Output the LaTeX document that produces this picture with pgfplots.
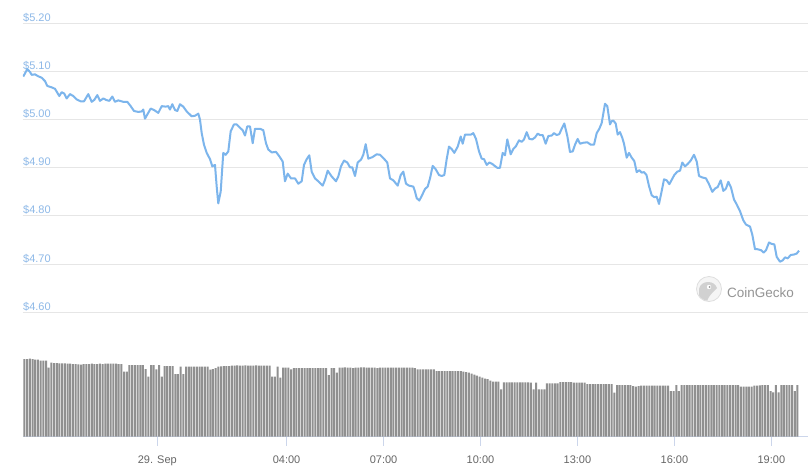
\documentclass[border=0pt]{standalone}
\usepackage{pgfplots}
\pgfplotsset{compat=1.18}
\usepackage{fontspec}
\setmainfont{Liberation Sans}
\definecolor{lineblue}{RGB}{124,181,236}
\definecolor{labelblue}{RGB}{142,185,232}
\definecolor{gridgray}{RGB}{230,230,230}
\definecolor{axisblue}{RGB}{204,214,235}
\definecolor{bargray}{RGB}{144,144,144}
\definecolor{textgray}{RGB}{102,102,102}
\begin{document}
\begin{tikzpicture}
\fill[white] (0pt,0pt) rectangle (808pt,467pt);
\useasboundingbox (0pt,0pt) rectangle (808pt,467pt);
% price panel
\begin{axis}[at={(23pt,154.7pt)}, anchor=south west, scale only axis,
  width=785pt, height=289pt,
  xmin=-4.155, xmax=20.133, ymin=4.6, ymax=5.2,
  axis line style={draw=none}, xtick=\empty,
  ytick={4.6,4.7,4.8,4.9,5.0,5.1,5.2},
  yticklabels={\$4.60,\$4.70,\$4.80,\$4.90,\$5.00,\$5.10,\$5.20},
  ymajorgrids, grid style={draw=gridgray, line width=1pt},
  major tick length=0pt, ytick style={draw=none},
  yticklabel style={font=\fontsize{11}{13}\selectfont, text=labelblue, anchor=base west, inner xsep=0pt, yshift=2pt},
]
\addplot[color=lineblue, line width=2pt, line join=round] table[row sep=\\] {
x y\\
-4.146 5.0895\\ -4.022 5.105\\ -3.939 5.099\\ -3.886 5.093\\ -3.784 5.094\\ -3.682 5.090\\
-3.577 5.087\\ -3.475 5.080\\ -3.404 5.070\\ -3.267 5.067\\ -3.165 5.064\\ -3.094 5.056\\
-3.032 5.049\\ -2.958 5.057\\ -2.878 5.054\\ -2.803 5.044\\ -2.701 5.053\\ -2.599 5.049\\
-2.494 5.042\\ -2.370 5.038\\ -2.268 5.038\\ -2.135 5.053\\ -2.030 5.037\\ -1.949 5.041\\
-1.856 5.051\\ -1.773 5.039\\ -1.671 5.044\\ -1.587 5.041\\ -1.485 5.039\\ -1.392 5.048\\
-1.309 5.037\\ -1.207 5.040\\ -1.052 5.037\\ -0.928 5.037\\ -0.823 5.028\\ -0.721 5.018\\
-0.588 5.016\\ -0.483 5.017\\ -0.433 5.021\\ -0.381 5.002\\ -0.297 5.012\\ -0.204 5.023\\
-0.102 5.020\\ 0.031 5.014\\ 0.136 5.028\\ 0.260 5.027\\ 0.340 5.028\\ 0.393 5.021\\
0.464 5.032\\ 0.548 5.020\\ 0.619 5.018\\ 0.702 5.032\\ 0.804 5.027\\ 0.910 5.017\\
1.064 5.007\\ 1.166 5.008\\ 1.269 5.0125\\ 1.321 5.000\\ 1.374 4.972\\ 1.445 4.948\\
1.528 4.931\\ 1.631 4.918\\ 1.702 4.903\\ 1.785 4.906\\ 1.838 4.861\\ 1.887 4.826\\
1.962 4.851\\ 2.042 4.931\\ 2.116 4.927\\ 2.197 4.934\\ 2.271 4.976\\ 2.373 4.990\\
2.457 4.990\\ 2.559 4.983\\ 2.642 4.978\\ 2.714 4.967\\ 2.785 4.986\\ 2.868 4.986\\
2.952 4.951\\ 3.023 4.981\\ 3.178 4.981\\ 3.280 4.978\\ 3.363 4.951\\ 3.434 4.938\\
3.540 4.932\\ 3.673 4.933\\ 3.775 4.924\\ 3.880 4.913\\ 3.951 4.872\\ 4.035 4.888\\
4.137 4.878\\ 4.261 4.878\\ 4.363 4.867\\ 4.468 4.872\\ 4.539 4.906\\ 4.623 4.918\\
4.703 4.926\\ 4.777 4.892\\ 4.879 4.878\\ 4.981 4.872\\ 5.118 4.863\\ 5.189 4.875\\
5.272 4.894\\ 5.396 4.882\\ 5.529 4.872\\ 5.60 4.882\\ 5.684 4.903\\ 5.777 4.915\\
5.879 4.911\\ 5.962 4.901\\ 6.033 4.901\\ 6.117 4.883\\ 6.200 4.911\\ 6.303 4.917\\
6.374 4.927\\ 6.448 4.949\\ 6.529 4.919\\ 6.652 4.922\\ 6.788 4.928\\ 6.891 4.927\\
7.024 4.918\\ 7.116 4.911\\ 7.200 4.878\\ 7.302 4.874\\ 7.438 4.863\\ 7.531 4.885\\
7.611 4.892\\ 7.695 4.867\\ 7.788 4.863\\ 7.921 4.861\\ 7.973 4.851\\ 8.026 4.837\\
8.107 4.832\\ 8.199 4.844\\ 8.283 4.856\\ 8.366 4.861\\ 8.438 4.878\\ 8.521 4.904\\
8.614 4.897\\ 8.716 4.885\\ 8.800 4.883\\ 8.880 4.885\\ 8.954 4.918\\ 9.025 4.944\\
9.109 4.939\\ 9.189 4.931\\ 9.295 4.944\\ 9.388 4.965\\ 9.449 4.950\\ 9.521 4.969\\
9.604 4.969\\ 9.706 4.969\\ 9.777 4.972\\ 9.861 4.960\\ 9.954 4.934\\ 10.037 4.919\\
10.108 4.918\\ 10.192 4.906\\ 10.272 4.911\\ 10.365 4.908\\ 10.418 4.905\\ 10.520 4.900\\
10.603 4.900\\ 10.687 4.931\\ 10.758 4.926\\ 10.829 4.959\\ 10.934 4.928\\ 11.015 4.939\\
11.098 4.945\\ 11.191 4.957\\ 11.275 4.954\\ 11.346 4.959\\ 11.430 4.974\\ 11.510 4.960\\
11.603 4.959\\ 11.686 4.963\\ 11.770 4.971\\ 11.841 4.968\\ 11.925 4.968\\ 12.017 4.950\\
12.098 4.966\\ 12.203 4.967\\ 12.274 4.972\\ 12.358 4.968\\ 12.438 4.970\\ 12.512 4.981\\
12.593 4.992\\ 12.686 4.966\\ 12.769 4.933\\ 12.853 4.934\\ 12.924 4.948\\ 13.007 4.960\\
13.079 4.950\\ 13.181 4.952\\ 13.305 4.953\\ 13.410 4.948\\ 13.512 4.948\\ 13.595 4.972\\
13.676 4.981\\ 13.750 4.993\\ 13.852 5.033\\ 13.923 5.028\\ 14.007 4.990\\ 14.060 4.997\\
14.109 4.998\\ 14.183 4.992\\ 14.245 4.969\\ 14.316 4.974\\ 14.388 4.962\\ 14.440 4.950\\
14.524 4.921\\ 14.595 4.931\\ 14.678 4.921\\ 14.759 4.914\\ 14.833 4.891\\ 14.914 4.895\\
14.988 4.890\\ 15.059 4.891\\ 15.136 4.885\\ 15.214 4.862\\ 15.297 4.843\\ 15.378 4.839\\
15.452 4.840\\ 15.523 4.825\\ 15.607 4.852\\ 15.678 4.876\\ 15.761 4.874\\ 15.842 4.866\\
15.916 4.875\\ 15.996 4.885\\ 16.089 4.892\\ 16.173 4.894\\ 16.244 4.911\\ 16.327 4.903\\
16.411 4.908\\ 16.504 4.915\\ 16.606 4.927\\ 16.690 4.913\\ 16.761 4.883\\ 16.863 4.880\\
16.977 4.878\\ 17.070 4.866\\ 17.172 4.850\\ 17.256 4.857\\ 17.339 4.860\\ 17.432 4.874\\
17.513 4.852\\ 17.596 4.857\\ 17.667 4.871\\ 17.751 4.859\\ 17.844 4.834\\ 17.927 4.824\\
18.029 4.810\\ 18.131 4.791\\ 18.215 4.782\\ 18.339 4.778\\ 18.410 4.761\\ 18.493 4.731\\
18.565 4.731\\ 18.679 4.729\\ 18.763 4.724\\ 18.834 4.729\\ 18.927 4.745\\ 19.010 4.742\\
19.091 4.741\\ 19.165 4.715\\ 19.267 4.705\\ 19.350 4.708\\ 19.422 4.714\\ 19.505 4.712\\
19.598 4.719\\ 19.700 4.720\\ 19.784 4.722\\ 19.855 4.728\\
};
\end{axis}
% volume panel
\begin{axis}[at={(23pt,30.3pt)}, anchor=south west, scale only axis,
  width=785pt, height=100pt,
  xmin=-4.155, xmax=20.133, ymin=0, ymax=100,
  axis x line*=bottom, axis y line=none, ytick=\empty,
  xtick={0,4,7,10,13,16,19},
  xticklabels={29. Sep,04:00,07:00,10:00,13:00,16:00,19:00},
  tick align=outside, major tick length=9pt,
  x tick style={draw=axisblue, line width=1pt},
  x axis line style={-, draw=axisblue, line width=1pt},
  xticklabel style={font=\fontsize{11}{13}\selectfont, text=textgray, anchor=base, yshift=-17.8pt},
]
\addplot[ybar, bar width=2pt, bar shift=0pt, fill=bargray, draw=none]
 table[x expr=-4.11+\thisrow{i}/12, y=v, row sep=\\] {
i v\\
0 77.5\\ 1 77.5\\ 2 78\\ 3 77.5\\ 4 77\\ 5 77\\ 6 76\\ 7 76\\ 8 76\\ 9 69\\
10 74\\ 11 73.5\\ 12 73.5\\ 13 73.3\\ 14 73.3\\ 15 73.3\\ 16 73\\ 17 73\\ 18 72.7\\ 19 72.5\\
20 72.3\\ 21 72\\ 22 72.5\\ 23 72.5\\ 24 72.7\\ 25 73\\ 26 72.5\\ 27 72.7\\ 28 73\\ 29 72.5\\
30 73\\ 31 73\\ 32 73\\ 33 73\\ 34 73\\ 35 72.7\\ 36 72.7\\ 37 65\\ 38 65\\ 39 71.7\\
40 71.7\\ 41 71.7\\ 42 71.7\\ 43 71.7\\ 44 71.7\\ 45 67.7\\ 46 60\\ 47 71.7\\ 48 71.7\\ 49 67.3\\
50 71.7\\ 51 60\\ 52 70.7\\ 53 70.7\\ 54 70.7\\ 55 70.7\\ 56 62.7\\ 57 62.7\\ 58 70\\ 59 62.7\\
60 70\\ 61 70\\ 62 70\\ 63 70\\ 64 70\\ 65 70\\ 66 70\\ 67 70\\ 68 70\\ 69 67\\
70 67.5\\ 71 68.5\\ 72 70\\ 73 70.3\\ 74 70.5\\ 75 70.5\\ 76 70.5\\ 77 71\\ 78 71\\ 79 71.3\\
80 71\\ 81 71\\ 82 71.3\\ 83 71\\ 84 71\\ 85 71\\ 86 71.3\\ 87 71\\ 88 71\\ 89 71\\
90 71\\ 91 71\\ 92 60\\ 93 60\\ 94 70\\ 95 59\\ 96 69\\ 97 69\\ 98 69\\ 99 67.3\\
100 68.7\\ 101 68.7\\ 102 68.7\\ 103 68.7\\ 104 68.7\\ 105 68.7\\ 106 68.7\\ 107 68.7\\ 108 68.7\\ 109 68.7\\
110 68.7\\ 111 68.7\\ 112 68.7\\ 113 61.7\\ 114 68.7\\ 115 68.7\\ 116 64\\ 117 69\\ 118 69\\ 119 69.3\\
120 69\\ 121 69\\ 122 68.7\\ 123 69\\ 124 69\\ 125 69.3\\ 126 69.3\\ 127 69\\ 128 69\\ 129 69\\
130 69\\ 131 68.7\\ 132 69\\ 133 69\\ 134 69\\ 135 69\\ 136 69\\ 137 69\\ 138 69\\ 139 69\\
140 69\\ 141 69\\ 142 69\\ 143 69\\ 144 69\\ 145 68.5\\ 146 67.3\\ 147 67.3\\ 148 67.3\\ 149 67.3\\
150 67.3\\ 151 67.3\\ 152 67.3\\ 153 65.7\\ 154 65.7\\ 155 65.7\\ 156 65.7\\ 157 65.7\\ 158 65.7\\ 159 65.7\\
160 65.7\\ 161 65.7\\ 162 65.7\\ 163 65\\ 164 64.5\\ 165 64\\ 166 63\\ 167 62\\ 168 61\\ 169 60\\
170 59\\ 171 58\\ 172 57.5\\ 173 56\\ 174 55\\ 175 55\\ 176 55\\ 177 47.3\\ 178 54.3\\ 179 54.3\\
180 54.3\\ 181 54.3\\ 182 54.3\\ 183 54.3\\ 184 54.3\\ 185 54.3\\ 186 54.3\\ 187 54.3\\ 188 54\\ 189 47.3\\
190 54\\ 191 47.3\\ 192 47.3\\ 193 47.3\\ 194 53.3\\ 195 53.3\\ 196 53.3\\ 197 53.3\\ 198 53.3\\ 199 54.7\\
200 54.7\\ 201 54.7\\ 202 54.7\\ 203 54.7\\ 204 54\\ 205 54\\ 206 54\\ 207 54\\ 208 54\\ 209 52.7\\
210 52.7\\ 211 52.7\\ 212 52.7\\ 213 52.7\\ 214 52.7\\ 215 52.7\\ 216 52.7\\ 217 52.7\\ 218 52.7\\ 219 44\\
220 51.7\\ 221 51.7\\ 222 51.7\\ 223 51.7\\ 224 51.7\\ 225 51.7\\ 226 50.5\\ 227 50\\ 228 50.5\\ 229 51\\
230 51\\ 231 51\\ 232 51\\ 233 51\\ 234 51\\ 235 51\\ 236 51\\ 237 51\\ 238 51\\ 239 51\\
240 45.7\\ 241 45.7\\ 242 51.7\\ 243 45.7\\ 244 51.7\\ 245 51.7\\ 246 51.7\\ 247 51.7\\ 248 51.7\\ 249 51.7\\
250 51.7\\ 251 51.7\\ 252 51.7\\ 253 51.7\\ 254 51.7\\ 255 51.7\\ 256 51.7\\ 257 51.7\\ 258 51.7\\ 259 51.7\\
260 51.7\\ 261 51.7\\ 262 51.7\\ 263 51.7\\ 264 51.7\\ 265 51.7\\ 266 50\\ 267 50\\ 268 50\\ 269 50\\
270 50\\ 271 51\\ 272 51\\ 273 51.3\\ 274 51.7\\ 275 51.7\\ 276 51.7\\ 277 45.7\\ 278 44.3\\ 279 51.7\\
280 44.3\\ 281 51.7\\ 282 51.7\\ 283 51.7\\ 284 51.7\\ 285 51.7\\ 286 45.7\\ 287 51.7\\
};
\end{axis}
% watermark
\begin{scope}
\draw[draw=black!13, fill=black!4, line width=0.8pt] (709pt,178pt) circle (12.5pt);
\clip (709pt,178pt) circle (12pt);
\fill[black!18] (699pt,165pt) -- (699pt,178pt) to[out=80,in=180] (708pt,185pt) to[out=0,in=110] (717pt,179pt) -- (713pt,175pt) to[out=230,in=80] (707pt,165pt) -- cycle;
\fill[white] (709pt,180pt) circle (2.2pt);
\fill[black!40] (709.6pt,180pt) circle (1.1pt);
\end{scope}
\node[anchor=base west, inner sep=0pt, text=black!42, font=\fontsize{13.5}{15}\selectfont] at (727pt,169.5pt) {CoinGecko};
\end{tikzpicture}
\end{document}
